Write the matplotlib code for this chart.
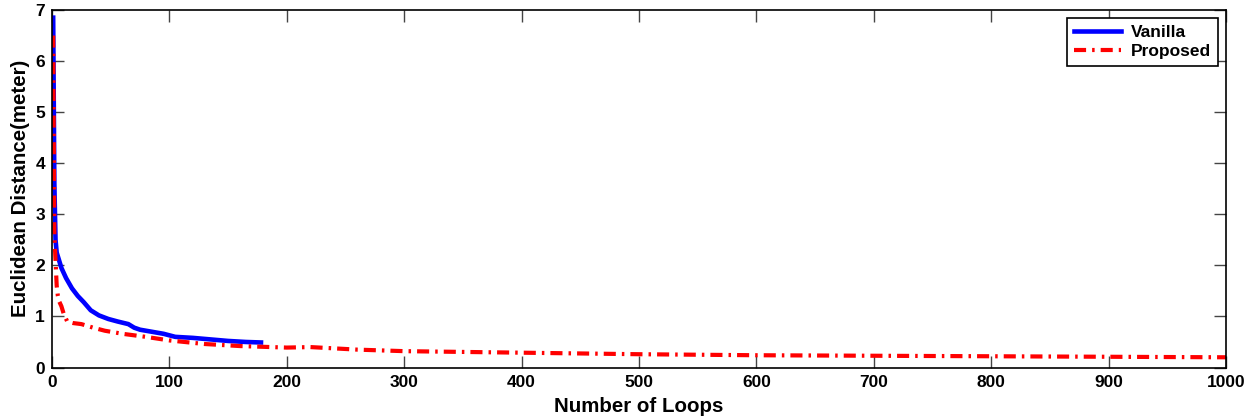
import matplotlib
matplotlib.use("Agg")
import matplotlib.pyplot as plt

plt.rcParams['font.family'] = ['Liberation Sans', 'DejaVu Sans']
plt.rcParams['font.weight'] = 'bold'

vanilla_x = [1, 2, 3, 4, 6, 8, 12, 17, 22, 27, 33, 40, 48, 56, 65, 70, 75, 85, 95, 105, 120, 135, 150, 165, 178]
vanilla_y = [6.85, 3.6, 2.5, 2.25, 2.1, 1.95, 1.75, 1.55, 1.4, 1.28, 1.12, 1.02, 0.95, 0.9, 0.85, 0.78, 0.74, 0.7, 0.66, 0.6, 0.58, 0.55, 0.52, 0.5, 0.49]

proposed_x = [1, 2, 3, 4, 5, 6, 8, 10, 13, 18, 25, 35, 45, 60, 80, 100, 130, 160, 200, 220, 260, 300, 400, 500, 600, 700, 800, 900, 1000]
proposed_y = [6.5, 2.6, 2.1, 1.6, 1.4, 1.3, 1.2, 1.05, 0.9, 0.87, 0.85, 0.78, 0.72, 0.66, 0.6, 0.53, 0.46, 0.42, 0.39, 0.4, 0.35, 0.32, 0.29, 0.26, 0.24, 0.23, 0.22, 0.21, 0.2]

x_ticks = [0, 100, 200, 300, 400, 500, 600, 700, 800, 900, 1000]
y_ticks = [0, 1, 2, 3, 4, 5, 6, 7]

fig = plt.figure(figsize=(12.59, 4.2), dpi=100)
ax = fig.add_axes([52 / 1259, 52.5 / 420, 1174 / 1259, 357.5 / 420])

ax.plot(vanilla_x, vanilla_y, color='#0000ff', lw=3.3, label='Vanilla', solid_joinstyle='round')
ax.plot(proposed_x, proposed_y, color='#ff0000', lw=3.0, ls=(0, (2.9, 1.45, 0.6, 1.45)), label='Proposed')

ax.set_xlim(0, 1000)
ax.set_ylim(0, 7)
ax.set_xticks(x_ticks)
ax.set_yticks(y_ticks)
ax.tick_params(direction='in', top=True, right=True, labelsize=12.5, width=1, length=8.5,
               color='#444444')
ax.tick_params(axis='x', pad=5.5)
ax.tick_params(axis='y', pad=5)
for lab in ax.get_xticklabels() + ax.get_yticklabels():
    lab.set_fontweight('bold')
for s in ax.spines.values():
    s.set_linewidth(1.2)

ax.set_xlabel('Number of Loops', fontsize=14.8, fontweight='bold', labelpad=5)
ax.set_ylabel('Euclidean Distance(meter)', fontsize=14.8, fontweight='bold', labelpad=4)

leg = ax.legend(loc='upper right', fontsize=12.5, fancybox=False, edgecolor='black',
                framealpha=1, handlelength=2.7, borderaxespad=0.45, labelspacing=0.25,
                borderpad=0.4, handletextpad=0.6)
leg.get_frame().set_linewidth(1.2)
for t in leg.get_texts():
    t.set_fontweight('bold')

fig.savefig('out.png', dpi=100)
